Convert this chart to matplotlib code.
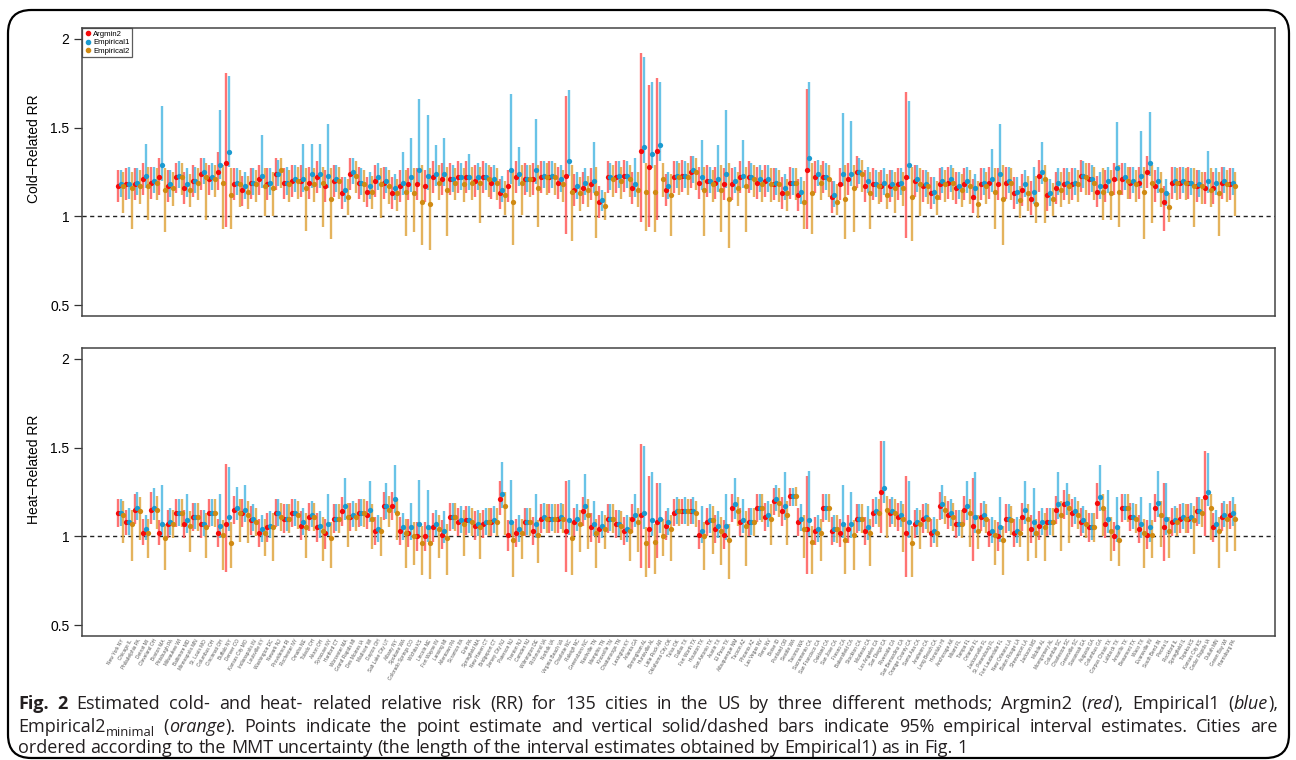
import re
import numpy as np
import matplotlib
matplotlib.use("Agg")
import matplotlib.pyplot as plt
from matplotlib.patches import FancyBboxPatch
from matplotlib.lines import Line2D

cities = [
    "New York NY", "Chicago IL", "Philadelphia PA", "Detroit MI", "Cleveland OH",
    "Boston MA", "Pittsburgh PA", "Milwaukee WI", "Baltimore MD", "Minneapolis MN",
    "St. Louis MO", "Columbus OH", "Cincinnati OH", "Buffalo NY", "Denver CO",
    "Kansas City MO", "Indianapolis IN", "Louisville KY", "Washington DC", "Newark NJ",
    "Providence RI", "Rochester NY", "Omaha NE", "Toledo OH", "Akron OH",
    "Syracuse NY", "Hartford CT", "Worcester MA", "Grand Rapids MI", "Des Moines IA",
    "Madison WI", "Dayton OH", "Salt Lake City UT", "Albany NY", "Spokane WA",
    "Colorado Springs CO", "Wichita KS", "Lincoln NE", "Fort Wayne IN", "Lansing MI",
    "Allentown PA", "Scranton PA", "Erie PA", "Springfield MA", "New Haven CT",
    "Bridgeport CT", "Jersey City NJ", "Paterson NJ", "Trenton NJ", "Camden NJ",
    "Wilmington DE", "Richmond VA", "Norfolk VA", "Virginia Beach VA", "Charlotte NC",
    "Raleigh NC", "Greensboro NC", "Nashville TN", "Memphis TN", "Knoxville TN",
    "Chattanooga TN", "Lexington KY", "Atlanta GA", "Birmingham AL", "Huntsville AL",
    "Little Rock AR", "Oklahoma City OK", "Tulsa OK", "Dallas TX", "Fort Worth TX",
    "Houston TX", "San Antonio TX", "Austin TX", "El Paso TX", "Albuquerque NM",
    "Tucson AZ", "Phoenix AZ", "Las Vegas NV", "Reno NV", "Boise ID",
    "Portland OR", "Seattle WA", "Tacoma WA", "Sacramento CA", "San Francisco CA",
    "Oakland CA", "San Jose CA", "Fresno CA", "Bakersfield CA", "Stockton CA",
    "Modesto CA", "Los Angeles CA", "San Diego CA", "Riverside CA", "San Bernardino CA",
    "Orange County CA", "Santa Ana CA", "Anaheim CA", "Long Beach CA", "Honolulu HI",
    "Anchorage AK", "Miami FL", "Tampa FL", "Orlando FL", "Jacksonville FL",
    "St. Petersburg FL", "Fort Lauderdale FL", "New Orleans LA", "Baton Rouge LA", "Shreveport LA",
    "Jackson MS", "Mobile AL", "Montgomery AL", "Columbia SC", "Charleston SC",
    "Greenville SC", "Savannah GA", "Augusta GA", "Columbus GA", "Corpus Christi TX",
    "Lubbock TX", "Amarillo TX", "Beaumont TX", "Waco TX", "Evansville IN",
    "South Bend IN", "Peoria IL", "Rockford IL", "Springfield IL", "Topeka KS",
    "Kansas City KS", "Cedar Rapids IA", "Duluth MN", "Green Bay WI", "Harrisburg PA",
]

# ---- cold-related RR ----
cold_a2 = [1.17,1.18,1.18,1.21,1.19,1.22,1.17,1.22,1.16,1.20,1.24,1.21,1.25,1.30,1.18,
           1.15,1.19,1.21,1.18,1.24,1.19,1.20,1.20,1.19,1.22,1.17,1.20,1.13,1.24,1.19,
           1.14,1.20,1.19,1.13,1.17,1.18,1.18,1.17,1.22,1.21,1.21,1.22,1.22,1.20,1.22,
           1.19,1.13,1.17,1.22,1.21,1.21,1.22,1.22,1.19,1.23,1.15,1.16,1.18,1.08,1.22,
           1.22,1.23,1.16,1.37,1.28,1.37,1.15,1.22,1.23,1.25,1.19,1.20,1.19,1.18,1.18,
           1.22,1.22,1.19,1.20,1.18,1.13,1.19,1.12,1.26,1.22,1.22,1.11,1.18,1.21,1.25,
           1.17,1.18,1.17,1.17,1.18,1.22,1.20,1.17,1.13,1.18,1.19,1.16,1.18,1.11,1.18,
           1.19,1.18,1.19,1.13,1.15,1.10,1.23,1.12,1.16,1.18,1.18,1.23,1.21,1.14,1.17,
           1.21,1.21,1.19,1.19,1.25,1.17,1.08,1.19,1.19,1.19,1.17,1.16,1.16,1.19,1.18]
cold_a2_hi = [1.26,1.27,1.27,1.30,1.28,1.33,1.26,1.30,1.25,1.29,1.33,1.29,1.36,1.81,1.27,
              1.23,1.27,1.29,1.27,1.33,1.27,1.29,1.29,1.28,1.31,1.26,1.29,1.22,1.33,1.28,
              1.22,1.29,1.28,1.22,1.26,1.27,1.27,1.26,1.31,1.30,1.30,1.31,1.31,1.29,1.31,
              1.28,1.21,1.26,1.31,1.30,1.30,1.31,1.31,1.28,1.68,1.24,1.25,1.27,1.17,1.31,
              1.31,1.32,1.25,1.92,1.74,1.78,1.24,1.31,1.32,1.34,1.28,1.29,1.28,1.27,1.27,
              1.31,1.31,1.28,1.29,1.27,1.22,1.28,1.21,1.72,1.31,1.31,1.20,1.27,1.30,1.34,
              1.26,1.27,1.26,1.26,1.27,1.70,1.29,1.26,1.22,1.27,1.28,1.25,1.27,1.21,1.27,
              1.28,1.27,1.28,1.22,1.24,1.20,1.32,1.21,1.25,1.27,1.27,1.32,1.30,1.23,1.26,
              1.30,1.30,1.28,1.28,1.34,1.26,1.17,1.28,1.28,1.28,1.26,1.25,1.25,1.28,1.27]
cold_a2_lo = [1.08,1.09,1.09,1.12,1.10,1.12,1.08,1.13,1.07,1.11,1.15,1.12,1.15,0.94,1.09,
              1.06,1.10,1.12,1.09,1.15,1.10,1.11,1.11,1.10,1.13,1.08,1.11,1.04,1.15,1.10,
              1.05,1.11,1.10,1.04,1.08,1.09,1.09,1.08,1.13,1.12,1.12,1.13,1.13,1.11,1.13,
              1.10,1.04,1.08,1.13,1.12,1.12,1.13,1.13,1.10,0.90,1.06,1.07,1.09,0.99,1.13,
              1.13,1.14,1.07,0.97,0.94,0.98,1.06,1.13,1.14,1.16,1.10,1.11,1.10,1.09,1.09,
              1.13,1.13,1.10,1.11,1.09,1.04,1.10,1.03,0.93,1.13,1.13,1.02,1.09,1.12,1.16,
              1.08,1.09,1.08,1.08,1.09,0.88,1.11,1.08,1.04,1.09,1.10,1.07,1.09,1.02,1.09,
              1.10,1.09,1.10,1.04,1.06,1.01,1.14,1.03,1.07,1.09,1.09,1.14,1.12,1.05,1.08,
              1.12,1.12,1.10,1.10,1.16,1.08,0.92,1.10,1.10,1.10,1.08,1.07,1.07,1.10,1.09]

cold_e1 = [1.18,1.18,1.19,1.23,1.20,1.29,1.18,1.23,1.18,1.20,1.25,1.22,1.29,1.36,1.19,
           1.17,1.19,1.23,1.19,1.24,1.19,1.21,1.21,1.24,1.24,1.23,1.21,1.15,1.25,1.19,
           1.17,1.22,1.20,1.16,1.19,1.22,1.26,1.23,1.24,1.24,1.21,1.22,1.22,1.22,1.22,
           1.21,1.15,1.26,1.24,1.21,1.26,1.23,1.23,1.21,1.31,1.17,1.19,1.20,1.09,1.22,
           1.23,1.23,1.18,1.39,1.35,1.40,1.17,1.23,1.23,1.26,1.22,1.20,1.21,1.24,1.20,
           1.23,1.22,1.21,1.21,1.19,1.16,1.19,1.14,1.33,1.24,1.22,1.12,1.24,1.24,1.25,
           1.20,1.18,1.19,1.18,1.19,1.29,1.21,1.18,1.14,1.20,1.21,1.17,1.20,1.16,1.19,
           1.21,1.24,1.20,1.14,1.18,1.14,1.25,1.13,1.19,1.19,1.19,1.23,1.21,1.17,1.20,
           1.27,1.22,1.20,1.23,1.30,1.20,1.13,1.20,1.20,1.19,1.18,1.20,1.19,1.20,1.19]
cold_e1_hi = [1.26,1.28,1.27,1.41,1.28,1.62,1.26,1.31,1.27,1.28,1.33,1.30,1.60,1.79,1.27,
              1.25,1.27,1.46,1.27,1.32,1.28,1.29,1.41,1.41,1.41,1.52,1.29,1.22,1.33,1.27,
              1.25,1.30,1.28,1.24,1.36,1.44,1.66,1.57,1.40,1.44,1.29,1.30,1.35,1.30,1.30,
              1.29,1.23,1.69,1.39,1.29,1.55,1.31,1.31,1.29,1.71,1.25,1.27,1.42,1.15,1.30,
              1.31,1.31,1.33,1.90,1.76,1.76,1.25,1.31,1.31,1.34,1.43,1.28,1.40,1.60,1.28,
              1.43,1.30,1.29,1.29,1.27,1.24,1.27,1.22,1.76,1.32,1.30,1.20,1.58,1.54,1.33,
              1.28,1.26,1.27,1.26,1.27,1.65,1.29,1.26,1.22,1.28,1.29,1.25,1.28,1.24,1.27,
              1.38,1.52,1.28,1.22,1.26,1.28,1.42,1.21,1.27,1.27,1.27,1.31,1.29,1.25,1.28,
              1.53,1.30,1.28,1.48,1.59,1.28,1.21,1.28,1.28,1.27,1.26,1.37,1.27,1.28,1.27]
cold_e1_lo = [1.11,1.10,1.12,1.16,1.13,1.20,1.11,1.16,1.11,1.13,1.18,1.15,1.21,1.28,1.12,
              1.10,1.12,1.16,1.12,1.17,1.12,1.14,1.14,1.16,1.16,1.16,1.14,1.08,1.18,1.12,
              1.10,1.15,1.13,1.09,1.12,1.14,1.18,1.15,1.17,1.17,1.14,1.15,1.15,1.15,1.15,
              1.14,1.08,1.18,1.17,1.14,1.18,1.16,1.16,1.14,1.23,1.10,1.12,1.13,1.03,1.15,
              1.16,1.16,1.11,1.30,1.27,1.31,1.10,1.16,1.16,1.19,1.15,1.13,1.14,1.16,1.13,
              1.16,1.15,1.14,1.14,1.12,1.09,1.12,1.07,1.25,1.17,1.15,1.05,1.17,1.17,1.18,
              1.13,1.11,1.12,1.11,1.12,1.21,1.14,1.11,1.07,1.13,1.14,1.10,1.13,1.09,1.12,
              1.14,1.17,1.13,1.07,1.11,1.07,1.18,1.06,1.12,1.12,1.12,1.16,1.14,1.10,1.13,
              1.20,1.15,1.13,1.16,1.23,1.13,1.06,1.13,1.13,1.12,1.11,1.13,1.12,1.13,1.12]

cold_e2 = [1.17,1.16,1.17,1.17,1.19,1.15,1.16,1.22,1.15,1.19,1.22,1.21,1.19,1.12,1.18,
           1.14,1.18,1.17,1.16,1.26,1.18,1.20,1.16,1.18,1.19,1.10,1.20,1.11,1.23,1.18,
           1.14,1.18,1.17,1.13,1.14,1.13,1.08,1.07,1.19,1.15,1.19,1.18,1.19,1.19,1.21,
           1.19,1.12,1.08,1.19,1.21,1.16,1.22,1.22,1.18,1.14,1.13,1.15,1.13,1.06,1.21,
           1.20,1.21,1.15,1.14,1.14,1.21,1.12,1.22,1.22,1.25,1.15,1.18,1.15,1.10,1.16,
           1.17,1.21,1.18,1.18,1.18,1.13,1.19,1.08,1.13,1.19,1.21,1.08,1.10,1.16,1.24,
           1.13,1.17,1.12,1.16,1.16,1.11,1.18,1.17,1.11,1.18,1.19,1.15,1.17,1.07,1.17,
           1.14,1.10,1.19,1.09,1.13,1.07,1.21,1.10,1.15,1.17,1.18,1.22,1.19,1.14,1.13,
           1.14,1.20,1.18,1.14,1.19,1.15,1.05,1.19,1.19,1.17,1.17,1.15,1.13,1.18,1.17]
cold_e2_hi = [1.25,1.25,1.26,1.28,1.27,1.27,1.25,1.30,1.24,1.27,1.30,1.29,1.29,1.27,1.26,
              1.23,1.26,1.27,1.25,1.33,1.26,1.28,1.27,1.27,1.28,1.27,1.28,1.21,1.31,1.26,
              1.23,1.27,1.26,1.21,1.26,1.27,1.29,1.27,1.29,1.28,1.27,1.27,1.28,1.28,1.29,
              1.27,1.20,1.26,1.29,1.29,1.29,1.30,1.30,1.26,1.29,1.22,1.23,1.28,1.14,1.29,
              1.28,1.29,1.25,1.30,1.29,1.30,1.24,1.30,1.30,1.33,1.28,1.26,1.29,1.30,1.25,
              1.28,1.29,1.26,1.27,1.26,1.21,1.27,1.20,1.30,1.29,1.29,1.18,1.29,1.29,1.32,
              1.25,1.25,1.24,1.25,1.25,1.28,1.27,1.25,1.20,1.26,1.27,1.24,1.26,1.20,1.25,
              1.27,1.29,1.27,1.17,1.23,1.23,1.29,1.19,1.25,1.25,1.26,1.30,1.28,1.27,1.26,
              1.29,1.28,1.26,1.28,1.29,1.25,1.13,1.27,1.27,1.27,1.25,1.27,1.25,1.26,1.25]
cold_e2_lo = [1.02,0.93,1.07,0.98,1.09,0.91,1.06,1.12,1.05,1.09,0.98,1.11,0.93,0.93,1.05,
              1.04,1.08,1.00,1.00,1.16,1.08,1.10,0.92,1.08,0.94,0.87,1.10,1.01,1.13,1.08,
              1.04,0.99,1.07,1.03,0.89,0.91,0.84,0.81,1.09,0.89,1.09,1.08,1.09,0.96,1.11,
              1.09,1.01,0.84,1.01,1.11,0.94,1.12,1.12,1.08,0.86,1.03,1.05,0.88,0.98,1.11,
              1.10,1.11,1.05,0.92,0.91,1.11,0.89,1.12,1.12,1.15,0.89,1.08,0.91,0.82,1.06,
              0.91,1.11,1.08,1.08,1.08,1.03,1.09,0.93,0.90,1.09,1.11,1.01,0.87,0.91,1.14,
              0.93,1.07,1.04,1.02,1.06,0.86,1.00,1.07,1.01,1.08,1.09,1.05,1.07,0.99,1.07,
              0.93,0.84,1.09,0.99,1.03,0.96,0.96,1.00,1.05,1.07,1.08,1.12,1.09,0.98,0.98,
              0.94,1.10,1.08,0.87,0.96,1.05,0.97,1.09,1.09,0.94,1.07,1.05,0.89,1.08,1.00]

# ---- heat-related RR ----
heat_a2 = [1.13,1.08,1.15,1.02,1.15,1.02,1.07,1.13,1.07,1.11,1.07,1.13,1.02,1.07,1.15,
           1.13,1.09,1.02,1.05,1.13,1.10,1.13,1.06,1.11,1.05,1.02,1.10,1.14,1.11,1.13,
           1.12,1.03,1.17,1.17,1.03,1.02,1.00,1.00,1.05,1.01,1.11,1.08,1.09,1.06,1.07,
           1.08,1.21,1.01,1.02,1.08,1.03,1.10,1.10,1.10,1.03,1.08,1.14,1.05,1.04,1.10,
           1.07,1.03,1.10,1.12,1.04,1.08,1.06,1.13,1.14,1.14,1.01,1.08,1.04,1.01,1.16,
           1.08,1.08,1.16,1.11,1.20,1.14,1.23,1.08,1.04,1.03,1.16,1.03,1.02,1.04,1.10,
           1.03,1.13,1.25,1.13,1.11,1.02,1.07,1.10,1.02,1.17,1.12,1.07,1.15,1.06,1.11,
           1.02,1.00,1.10,1.02,1.11,1.04,1.06,1.08,1.15,1.18,1.13,1.08,1.05,1.19,1.07,
           1.00,1.16,1.11,1.04,1.01,1.16,1.05,1.08,1.10,1.10,1.14,1.22,1.05,1.11,1.12]
heat_a2_hi = [1.21,1.15,1.24,1.10,1.25,1.09,1.15,1.21,1.15,1.19,1.15,1.21,1.10,1.41,1.23,
              1.21,1.17,1.10,1.13,1.21,1.18,1.21,1.14,1.19,1.13,1.10,1.18,1.22,1.19,1.21,
              1.20,1.11,1.25,1.25,1.11,1.10,1.08,1.08,1.13,1.09,1.19,1.16,1.17,1.14,1.15,
              1.16,1.31,1.09,1.10,1.16,1.11,1.18,1.18,1.18,1.31,1.16,1.22,1.13,1.12,1.18,
              1.15,1.11,1.18,1.52,1.34,1.30,1.14,1.21,1.21,1.21,1.09,1.16,1.12,1.09,1.24,
              1.16,1.16,1.24,1.19,1.27,1.22,1.27,1.16,1.34,1.11,1.24,1.11,1.10,1.12,1.18,
              1.11,1.21,1.54,1.21,1.19,1.34,1.15,1.18,1.10,1.25,1.20,1.15,1.23,1.33,1.19,
              1.10,1.08,1.18,1.10,1.19,1.12,1.14,1.16,1.23,1.26,1.21,1.16,1.13,1.30,1.15,
              1.08,1.24,1.19,1.12,1.09,1.24,1.30,1.16,1.18,1.18,1.22,1.48,1.13,1.19,1.20]
heat_a2_lo = [1.05,1.01,1.07,0.95,1.07,0.95,0.99,1.05,0.99,1.03,0.99,1.05,0.94,0.80,1.07,
              1.05,1.01,0.94,0.97,1.05,1.02,1.05,0.98,1.03,0.97,0.93,1.02,1.06,1.03,1.05,
              1.04,0.95,1.09,1.09,0.95,0.94,0.92,0.92,0.97,0.93,1.03,1.00,1.01,0.98,0.99,
              1.00,1.12,0.92,0.94,1.00,0.95,1.02,1.02,1.02,0.80,1.00,1.06,0.97,0.96,1.02,
              0.99,0.95,1.02,0.82,0.82,0.88,0.98,1.06,1.07,1.07,0.93,1.00,0.96,0.93,1.08,
              1.00,1.00,1.08,1.03,1.12,1.06,1.17,1.00,0.79,0.95,1.08,0.95,0.94,0.96,1.02,
              0.95,1.05,1.02,1.05,1.03,0.77,0.99,1.02,0.94,1.09,1.04,0.99,1.07,0.86,1.03,
              0.94,0.92,1.02,0.94,1.03,0.96,0.98,1.00,1.07,1.10,1.05,1.00,0.97,1.10,0.99,
              0.92,1.08,1.03,0.96,0.93,1.08,0.86,1.00,1.02,1.02,1.06,1.00,0.97,1.03,1.04]

heat_e1 = [1.13,1.08,1.16,1.04,1.16,1.07,1.08,1.13,1.09,1.11,1.07,1.13,1.06,1.11,1.16,
           1.15,1.10,1.04,1.06,1.13,1.10,1.13,1.08,1.12,1.06,1.07,1.10,1.17,1.12,1.13,
           1.15,1.04,1.17,1.21,1.05,1.05,1.07,1.05,1.07,1.03,1.11,1.09,1.09,1.07,1.08,
           1.09,1.24,1.08,1.04,1.08,1.07,1.11,1.10,1.11,1.09,1.10,1.17,1.07,1.06,1.10,
           1.07,1.04,1.12,1.13,1.09,1.10,1.08,1.14,1.14,1.14,1.03,1.09,1.06,1.06,1.18,
           1.09,1.08,1.16,1.12,1.21,1.17,1.23,1.10,1.09,1.04,1.16,1.04,1.07,1.07,1.10,
           1.05,1.14,1.27,1.14,1.12,1.08,1.08,1.11,1.03,1.18,1.13,1.07,1.17,1.11,1.12,
           1.03,1.05,1.10,1.03,1.15,1.08,1.08,1.08,1.18,1.19,1.14,1.09,1.05,1.22,1.10,
           1.05,1.16,1.11,1.07,1.05,1.19,1.10,1.09,1.11,1.11,1.14,1.25,1.07,1.12,1.13]
heat_e1_hi = [1.21,1.16,1.25,1.12,1.27,1.29,1.16,1.21,1.24,1.19,1.15,1.21,1.24,1.39,1.28,
              1.29,1.18,1.12,1.14,1.21,1.18,1.21,1.16,1.20,1.14,1.24,1.18,1.33,1.20,1.21,
              1.31,1.12,1.30,1.40,1.13,1.19,1.32,1.26,1.15,1.14,1.19,1.17,1.17,1.15,1.16,
              1.17,1.42,1.32,1.12,1.16,1.24,1.19,1.18,1.19,1.32,1.18,1.35,1.20,1.14,1.18,
              1.15,1.12,1.24,1.51,1.36,1.30,1.16,1.22,1.22,1.22,1.17,1.18,1.14,1.24,1.33,
              1.21,1.16,1.24,1.20,1.29,1.36,1.27,1.18,1.37,1.12,1.24,1.12,1.29,1.25,1.18,
              1.17,1.22,1.54,1.22,1.20,1.31,1.16,1.19,1.11,1.29,1.21,1.15,1.31,1.36,1.20,
              1.11,1.22,1.18,1.11,1.31,1.27,1.16,1.16,1.36,1.30,1.22,1.17,1.13,1.40,1.26,
              1.22,1.24,1.19,1.22,1.19,1.37,1.30,1.17,1.19,1.19,1.22,1.47,1.15,1.20,1.22]
heat_e1_lo = [1.06,1.01,1.09,0.98,1.09,1.00,1.01,1.06,1.02,1.04,1.00,1.06,0.99,1.03,1.09,
              1.08,1.03,0.97,0.99,1.06,1.03,1.06,1.01,1.05,0.99,1.00,1.03,1.09,1.05,1.06,
              1.08,0.97,1.10,1.13,0.98,0.98,0.99,0.97,1.00,0.96,1.04,1.02,1.02,1.00,1.01,
              1.02,1.16,1.00,0.97,1.01,0.99,1.04,1.03,1.04,1.01,1.03,1.09,1.00,0.99,1.03,
              1.00,0.97,1.05,1.04,1.00,1.02,1.01,1.07,1.07,1.07,0.96,1.02,0.99,0.98,1.10,
              1.02,1.01,1.09,1.05,1.14,1.09,1.17,1.03,1.00,0.97,1.09,0.97,0.99,0.99,1.03,
              0.98,1.07,1.19,1.07,1.05,0.99,1.01,1.04,0.96,1.10,1.06,1.00,1.09,1.02,1.05,
              0.96,0.97,1.03,0.96,1.07,1.00,1.01,1.01,1.10,1.12,1.07,1.02,0.98,1.14,1.02,
              0.97,1.09,1.04,0.99,0.97,1.11,1.01,1.02,1.04,1.04,1.07,1.17,1.00,1.05,1.06]

heat_e2 = [1.12,1.07,1.14,1.02,1.15,0.99,1.07,1.13,1.06,1.11,1.05,1.13,1.01,0.96,1.13,
           1.12,1.08,1.02,1.05,1.11,1.10,1.12,1.05,1.11,1.03,0.99,1.10,1.11,1.11,1.13,
           1.10,1.03,1.15,1.13,1.02,1.00,0.96,0.96,1.04,0.99,1.11,1.07,1.08,1.05,1.08,
           1.08,1.17,0.98,1.02,1.08,1.01,1.10,1.10,1.10,0.99,1.07,1.12,1.02,1.04,1.10,
           1.06,1.03,1.08,0.96,0.97,1.00,1.04,1.14,1.14,1.13,1.00,1.09,1.03,0.98,1.14,
           1.06,1.08,1.16,1.10,1.19,1.12,1.23,1.04,0.97,1.02,1.16,1.04,0.98,1.01,1.10,
           1.02,1.13,1.15,1.13,1.10,0.96,1.07,1.10,1.02,1.15,1.11,1.07,1.13,1.03,1.10,
           1.01,0.98,1.09,1.02,1.10,1.02,1.05,1.08,1.12,1.16,1.12,1.07,1.05,1.16,1.03,
           0.98,1.16,1.10,1.02,1.01,1.12,1.03,1.08,1.10,1.09,1.13,1.16,1.03,1.10,1.10]
heat_e2_hi = [1.20,1.15,1.22,1.10,1.23,1.07,1.15,1.21,1.14,1.19,1.13,1.21,1.09,1.08,1.21,
              1.20,1.16,1.10,1.13,1.19,1.18,1.20,1.13,1.19,1.11,1.08,1.18,1.19,1.19,1.21,
              1.18,1.11,1.23,1.21,1.10,1.08,1.06,1.05,1.12,1.07,1.19,1.15,1.16,1.13,1.16,
              1.16,1.25,1.07,1.10,1.16,1.09,1.18,1.18,1.18,1.08,1.15,1.21,1.10,1.12,1.18,
              1.14,1.11,1.16,1.05,1.07,1.10,1.12,1.21,1.21,1.20,1.08,1.17,1.11,1.07,1.22,
              1.14,1.16,1.24,1.18,1.27,1.20,1.28,1.12,1.06,1.10,1.24,1.12,1.06,1.09,1.18,
              1.10,1.21,1.23,1.21,1.18,1.06,1.15,1.18,1.10,1.23,1.19,1.15,1.21,1.12,1.18,
              1.09,1.06,1.17,1.10,1.18,1.10,1.13,1.16,1.20,1.24,1.20,1.15,1.13,1.24,1.11,
              1.06,1.24,1.18,1.10,1.09,1.20,1.11,1.16,1.18,1.17,1.21,1.24,1.11,1.18,1.18]
heat_e2_lo = [0.96,0.86,0.98,0.88,1.04,0.81,0.99,1.05,0.91,1.03,0.88,1.05,0.81,0.82,0.97,
              0.96,1.00,0.89,0.86,1.03,1.02,1.04,0.88,1.03,0.86,0.82,1.02,0.94,1.03,1.05,
              0.93,0.89,1.05,0.98,0.82,0.84,0.78,0.76,0.88,0.78,1.03,0.89,1.00,0.87,1.00,
              1.00,1.01,0.77,0.87,1.00,0.85,1.02,1.02,1.02,0.78,0.91,0.93,0.82,0.93,1.02,
              0.98,0.86,0.91,0.77,0.79,0.89,0.86,1.06,1.06,1.05,0.81,0.90,0.84,0.76,1.06,
              0.83,1.00,1.08,0.95,1.11,0.95,1.17,0.88,0.79,0.86,1.08,0.96,0.79,0.81,1.02,
              0.83,1.05,0.99,1.05,0.91,0.77,0.93,1.02,0.94,1.07,1.03,0.99,0.94,0.93,1.02,
              0.84,0.78,1.01,0.94,0.86,0.88,0.86,1.00,0.92,0.96,1.04,0.99,0.97,1.00,0.86,
              0.83,1.08,1.02,0.82,0.88,0.94,0.88,1.00,1.02,0.90,1.05,0.98,0.82,0.91,0.92]

methods = ["Argmin2", "Empirical1", "Empirical2"]
pt_cols = ["#f50a0a", "#1a9ad0", "#d08a12"]
bar_cols = ["#ff5a5a", "#4fb9e3", "#e0a640"]
offsets = [-0.33, 0.0, 0.33]

cold = [(cold_a2, cold_a2_lo, cold_a2_hi), (cold_e1, cold_e1_lo, cold_e1_hi),
        (cold_e2, cold_e2_lo, cold_e2_hi)]
heat = [(heat_a2, heat_a2_lo, heat_a2_hi), (heat_e1, heat_e1_lo, heat_e1_hi),
        (heat_e2, heat_e2_lo, heat_e2_hi)]

# caption, one entry per printed line; {b:..} bold, {i:..} italic, {s:..} subscript
caption = [
    "{b:Fig.} {b:2} Estimated cold- and heat- related relative risk (RR) for 135 cities in the US "
    "by three different methods; Argmin2 ({i:red}), Empirical1 ({i:blue}),",
    "Empirical2{s:minimal} ({i:orange}). Points indicate the point estimate and vertical "
    "solid/dashed bars indicate 95% empirical interval estimates. Cities are",
    "ordered according to the MMT uncertainty (the length of the interval estimates "
    "obtained by Empirical1) as in Fig. 1",
]

plt.rcParams["font.family"] = ["Liberation Sans", "DejaVu Sans"]

W, H = 1296, 760
fig = plt.figure(figsize=(W / 100, H / 100), dpi=100)

# journal figure frame
fig.patches.append(FancyBboxPatch((8 / W, 2 / H), 1281 / W, 748 / H,
                                  boxstyle="round,pad=0,rounding_size=0.018",
                                  transform=fig.transFigure, fill=False,
                                  ec="black", lw=1.6, mutation_aspect=W / H))

ax1 = fig.add_axes([0.0633, 0.5846, 0.9205, 0.3782])
ax2 = fig.add_axes([0.0633, 0.1636, 0.9205, 0.3781])

x = np.arange(1, len(cities) + 1)

for ax, data, lab in [(ax1, cold, "Cold\u2212Related RR"), (ax2, heat, "Heat\u2212Related RR")]:
    ax.axhline(1, color="#222222", ls=(0, (3, 2.5)), lw=1.0, zorder=1)
    for k, (pt, lo, hi) in enumerate(data):
        xs = x + offsets[k]
        ax.vlines(xs, lo, hi, color=bar_cols[k], lw=1.7, alpha=0.85, zorder=2)
        ax.plot(xs, pt, "o", color=pt_cols[k], ms=3.8, mec="none", zorder=3)
    ax.set_xlim(-3.66, 140.1)
    ax.set_ylim(0.44, 2.06)
    ax.set_yticks([0.5, 1, 1.5, 2])
    ax.set_yticklabels(["0.5", "1", "1.5", "2"])
    ax.tick_params(axis="y", labelsize=10, length=6, width=0.9, color="#333333", pad=3)
    ax.set_ylabel(lab, fontsize=10, labelpad=4)
    ax.yaxis.set_label_coords(-0.034, 0.58)
    for s in ax.spines.values():
        s.set_color("#444444")
        s.set_linewidth(1.1)

ax1.set_xticks([])
ax2.set_xticks(x)
ax2.set_xticklabels(cities, rotation=60, ha="right", va="top",
                    rotation_mode="anchor", fontsize=3.4, color="#555555")
ax2.tick_params(axis="x", length=0, pad=2)

handles = [Line2D([], [], marker="o", ls="none", color=c, ms=3.0) for c in pt_cols]
leg = ax1.legend(handles, methods, loc="upper left", fontsize=5.6, frameon=True,
                 fancybox=False, borderaxespad=0, handletextpad=0.2,
                 handlelength=0.9, borderpad=0.3, labelspacing=0.12)
leg.get_frame().set_edgecolor("#333333")
leg.get_frame().set_linewidth(0.9)

# ---- justified caption ----
renderer = fig.canvas.get_renderer()
cap_size = 13.0
left_px, right_px = 18, 1278
baselines = [709, 732, 753]


def pieces_of(word):
    out, pos = [], 0
    for m in re.finditer(r"\{(\w):([^}]*)\}", word):
        if m.start() > pos:
            out.append((word[pos:m.start()], "n"))
        out.append((m.group(2), m.group(1)))
        pos = m.end()
    if pos < len(word):
        out.append((word[pos:], "n"))
    return out


def make_text(s, style):
    kw = dict(family="Open Sans", color="#231f20", fontsize=cap_size,
              ha="left", va="baseline")
    if style == "b":
        kw["weight"] = "bold"
    elif style == "i":
        kw["style"] = "italic"
    elif style == "s":
        kw["fontsize"] = cap_size * 0.72
    return fig.text(0, 0, s, **kw)


probe_a = make_text("n n", "n")
probe_b = make_text("nn", "n")
space_w = (probe_a.get_window_extent(renderer).width
           - probe_b.get_window_extent(renderer).width)
probe_a.remove()
probe_b.remove()

for li, line in enumerate(caption):
    words = []
    for w in line.split(" "):
        parts = []
        for s, st in pieces_of(w):
            t = make_text(s, st)
            parts.append((t, st, t.get_window_extent(renderer).width))
        words.append(parts)
    widths = [sum(p[2] for p in wd) for wd in words]
    if li < len(caption) - 1:
        gap = (right_px - left_px - sum(widths)) / (len(words) - 1)
    else:
        gap = space_w
    xpos = left_px
    for wd, wdw in zip(words, widths):
        for t, st, pw in wd:
            yb = baselines[li] + (4 if st == "s" else 0)
            t.set_position((xpos / W, 1 - yb / H))
            xpos += pw
        xpos += gap

fig.savefig("out.png", dpi=100)
